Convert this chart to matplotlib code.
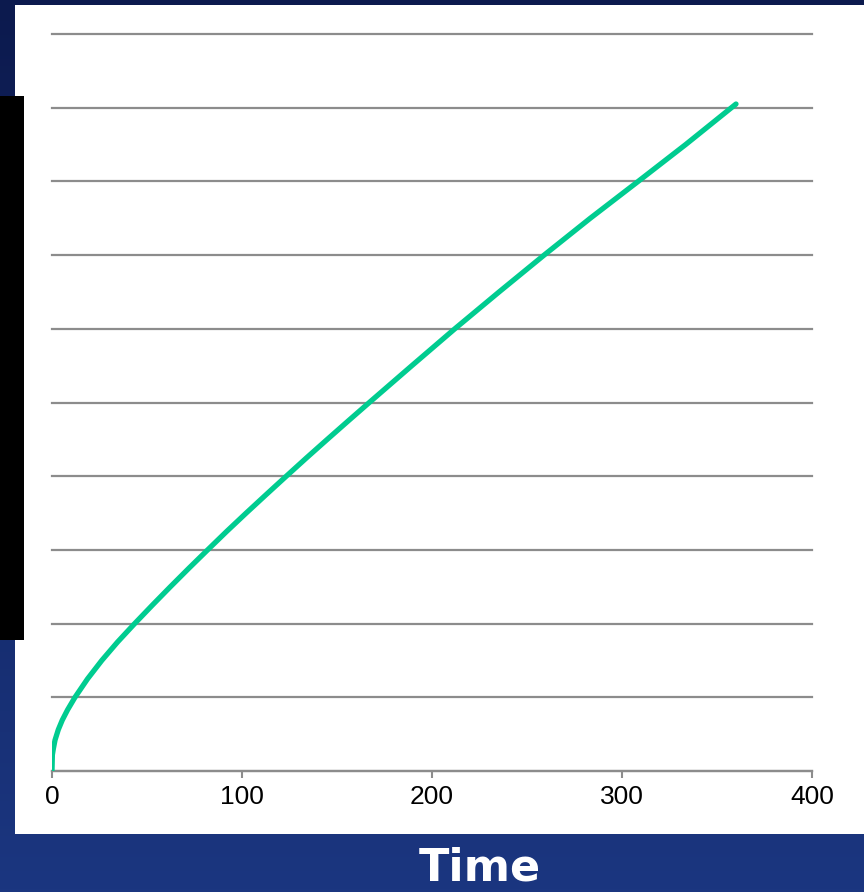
import numpy as np
import matplotlib
matplotlib.use('Agg')
import matplotlib.pyplot as plt
from matplotlib.patches import Rectangle

# Readings along the curve: time vs. value
time = [0, 0.2, 0.7, 1.6, 3.3, 5.4, 8.2, 12.1, 18.7, 26.2, 34.5, 43.5,
        52.8, 62.3, 72, 81.9, 91.9, 102.2, 112.7, 123.3, 134, 144.9, 155.9,
        167, 189.4, 212, 235.3, 259, 283.3, 308.5, 333.5, 360]
value = [0, 0.22, 0.3, 0.42, 0.56, 0.69, 0.83, 1.0, 1.25, 1.5, 1.75, 2.0,
         2.25, 2.5, 2.75, 3.0, 3.25, 3.5, 3.75, 4.0, 4.25, 4.5, 4.75,
         5.0, 5.5, 6.0, 6.5, 7.0, 7.5, 8.0, 8.5, 9.05]
x_ticks = [0, 100, 200, 300, 400]
y_grid = list(range(0, 11))

W, H = 864, 892
fig = plt.figure(figsize=(W / 100, H / 100), dpi=100)

# slide background: dark navy fading to a lighter blue
bg = fig.add_axes([0, 0, 1, 1])
top = np.array([12, 26, 78]) / 255
bottom = np.array([27, 54, 128]) / 255
t = np.linspace(0, 1, 256)[:, None]
grad = top[None, :] * (1 - t) + bottom[None, :] * t
bg.imshow(grad[:, None, :], aspect='auto', extent=[0, 1, 0, 1])
bg.set_xlim(0, 1)
bg.set_ylim(0, 1)
bg.axis('off')

# white chart panel and the black bar on the left
bg.add_patch(Rectangle((15 / W, 1 - 834 / H), 1 - 15 / W, (834 - 5) / H,
                       facecolor='white', edgecolor='none'))
bg.add_patch(Rectangle((0, 1 - 640 / H), 24 / W, (640 - 96) / H,
                       facecolor='black', edgecolor='none'))

ax = fig.add_axes([52 / W, 1 - 771 / H, 760 / W, (771 - 34) / H])
ax.set_facecolor('none')
ax.plot(time, value, color='#00cc90', linewidth=3.8, solid_capstyle='round',
        solid_joinstyle='round', zorder=3)

ax.set_xlim(0, 400)
ax.set_ylim(0, 10)
ax.set_xticks(x_ticks)
ax.set_yticks(y_grid)
ax.set_yticklabels([])
ax.tick_params(axis='y', length=0)
ax.tick_params(axis='x', direction='out', length=5, width=1.5, color='#8c8c8c',
               labelsize=19, pad=5)
for lab in ax.get_xticklabels():
    lab.set_family('Liberation Sans')
ax.yaxis.grid(True, color='#8c8c8c', linewidth=1.6)
for gl in ax.get_ygridlines():
    gl.set_clip_on(False)
ax.set_axisbelow(True)
for side in ['top', 'left', 'right']:
    ax.spines[side].set_visible(False)
ax.spines['bottom'].set_color('#8c8c8c')
ax.spines['bottom'].set_linewidth(1.6)
ax.spines['bottom'].set_zorder(2)

fig.text(480 / W, 1 - 868 / H, 'Time', color='white', fontsize=32,
         fontweight='bold', ha='center', va='center', family='DejaVu Sans')

fig.savefig('out.png', dpi=100)
